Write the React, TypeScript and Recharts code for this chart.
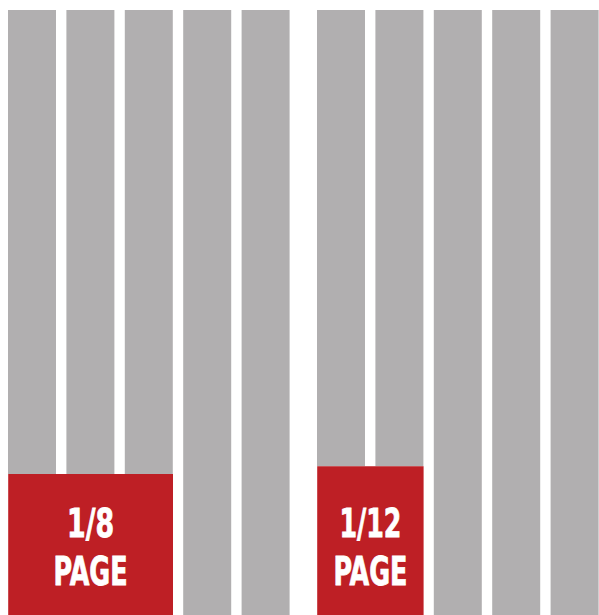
import { Bar, BarChart, ReferenceArea, XAxis, YAxis } from "recharts";

// five columns per page, ad block covers the first columns from the bottom
const columns = [0, 1, 2, 3, 4];
const adNames = ["1/8", "1/12"];
const adSpans = [3, 2];
const adHeights = [23.3, 24.6]; // % of column height
const PAGE_HEIGHT = 100;

const GRAY = "#b1afb0";
const RED = "#be1f25";
const CHART_W = 292;
const CHART_H = 605;
const BAR_W = 48;
const HALF_BAR = BAR_W / (CHART_W / columns.length) / 2;
const chartLefts = [3, 312];

const labelWidths: Record<string, number> = { "1/8": 47, "1/12": 62, PAGE: 74 };

function AdLabel({ viewBox, name }: { viewBox?: any; name: string }) {
  if (!viewBox) return null;
  const cx = viewBox.x + viewBox.width / 2;
  const bottom = viewBox.y + viewBox.height;
  const textStyle = {
    fontFamily: "'Liberation Sans Narrow', 'DejaVu Sans Condensed', sans-serif",
    fontStretch: "condensed",
    fontWeight: 700,
    fontSize: 39,
    fill: "#ffffff",
    stroke: "#ffffff",
    strokeWidth: 0.8
  };
  return (
    <g>
      <text x={cx} y={bottom - 78} textAnchor="middle" textLength={labelWidths[name]} lengthAdjust="spacingAndGlyphs" style={textStyle}>
        {name}
      </text>
      <text x={cx} y={bottom - 30} textAnchor="middle" textLength={labelWidths.PAGE} lengthAdjust="spacingAndGlyphs" style={textStyle}>
        PAGE
      </text>
    </g>
  );
}

function PageDiagram({ name, span, height }: { name: string; span: number; height: number }) {
  const data = columns.map((col) => ({
    col,
    covered: col < span ? height : 0,
    open: col < span ? PAGE_HEIGHT - height : PAGE_HEIGHT
  }));

  return (
    <BarChart width={CHART_W} height={CHART_H} data={data} margin={{ top: 0, right: 0, bottom: 0, left: 0 }}>
      <XAxis type="number" dataKey="col" domain={[-0.5, columns.length - 0.5]} hide />
      <YAxis type="number" domain={[0, PAGE_HEIGHT]} hide />
      <Bar dataKey="covered" stackId="page" fill="none" barSize={BAR_W} isAnimationActive={false} />
      <Bar dataKey="open" stackId="page" fill={GRAY} barSize={BAR_W} isAnimationActive={false} />
      <ReferenceArea
        x1={-HALF_BAR}
        x2={span - 1 + HALF_BAR}
        y1={0}
        y2={height}
        fill={RED}
        fillOpacity={1}
        stroke="none"
        zIndex={400}
        label={(props: any) => <AdLabel viewBox={props.viewBox} name={name} />}
      />
    </BarChart>
  );
}

export default function App() {
  return (
    <div style={{ position: "fixed", left: 0, top: 0, width: 599, height: 615, overflow: "hidden", background: "#fff" }}>
      {adNames.map((name, i) => (
        <div key={name} style={{ position: "absolute", left: chartLefts[i], top: 10 }}>
          <PageDiagram name={name} span={adSpans[i]} height={adHeights[i]} />
        </div>
      ))}
    </div>
  );
}
